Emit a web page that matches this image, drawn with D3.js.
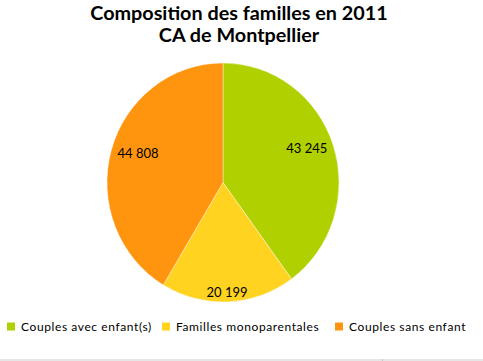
<!DOCTYPE html>
<html>
<head>
<meta charset="utf-8">
<script src="https://cdn.jsdelivr.net/npm/d3@7"></script>
<style>
  body { margin: 0; background: #fff; }
  svg { display: block; font-family: Lato, "Open Sans", sans-serif; }
</style>
</head>
<body>
<div id="chart"></div>
<script>
// Data for the pie
var categories = ["Couples avec enfant(s)", "Familles monoparentales", "Couples sans enfant"];
var values = [43245, 20199, 44808];
var valueLabels = ["43 245", "20 199", "44 808"];
var colors = ["#b0d000", "#ffd320", "#ff950e"];
var titleLines = ["Composition des familles en 2011", "CA de Montpellier"];

var width = 483, height = 361;
var cx = 223, cy = 182.5;
var rx = 116, ry = 119.5;

var svg = d3.select("#chart").append("svg")
    .attr("width", width)
    .attr("height", height);

// Title
svg.append("text")
    .attr("x", 239)
    .attr("text-anchor", "middle")
    .attr("font-weight", "bold")
    .attr("font-size", 19.8)
    .attr("fill", "#000")
    .selectAll("tspan")
    .data(titleLines).enter()
    .append("tspan")
        .attr("x", 239)
        .attr("y", function(d, i) { return 20 + i * 22; })
        .text(function(d) { return d; });

var pie = d3.pie().sort(null).value(function(d) { return d; });
var arcs = pie(values);

var arc = d3.arc().innerRadius(0).outerRadius(ry);

// pie drawn as a circle then squashed a little horizontally
var g = svg.append("g")
    .attr("transform", "translate(" + cx + "," + cy + ") scale(" + (rx / ry) + ",1)");

g.selectAll(".slice")
    .data(arcs).enter()
    .append("path")
        .attr("class", "slice")
        .attr("d", arc)
        .attr("fill", function(d, i) { return colors[i]; })
        .attr("stroke", "#fff")
        .attr("stroke-width", 0.4);

// Value labels, placed inside each slice
svg.selectAll(".vlabel")
    .data(arcs).enter()
    .append("text")
        .attr("class", "vlabel")
        .attr("text-anchor", "middle")
        .attr("dy", "0.35em")
        .attr("font-size", 13)
        .attr("fill", "#000")
        .attr("x", function(d) {
            var a = (d.startAngle + d.endAngle) / 2;
            return cx + 0.76 * rx * Math.sin(a);
        })
        .attr("y", function(d) {
            var a = (d.startAngle + d.endAngle) / 2;
            return cy - 0.92 * ry * Math.cos(a);
        })
        .text(function(d, i) { return valueLabels[i]; });

// Legend
var legendX = [7, 162, 335];
var legend = svg.selectAll(".legend")
    .data(categories).enter()
    .append("g")
        .attr("class", "legend")
        .attr("transform", function(d, i) { return "translate(" + legendX[i] + ",322)"; });

legend.append("rect")
    .attr("width", 8)
    .attr("height", 8)
    .attr("y", 0.5)
    .attr("fill", function(d, i) { return colors[i]; });

legend.append("text")
    .attr("x", 14)
    .attr("y", 9)
    .attr("font-size", 12)
    .attr("letter-spacing", 0.6)
    .attr("fill", "#000")
    .text(function(d) { return d; });

// grey strip at the bottom of the frame
svg.append("rect")
    .attr("x", 0).attr("y", 359)
    .attr("width", width).attr("height", 2)
    .attr("fill", "#e6e6e6");
svg.append("rect")
    .attr("x", 382).attr("y", 359)
    .attr("width", 1).attr("height", 2)
    .attr("fill", "#c8c8c8");
</script>
</body>
</html>
